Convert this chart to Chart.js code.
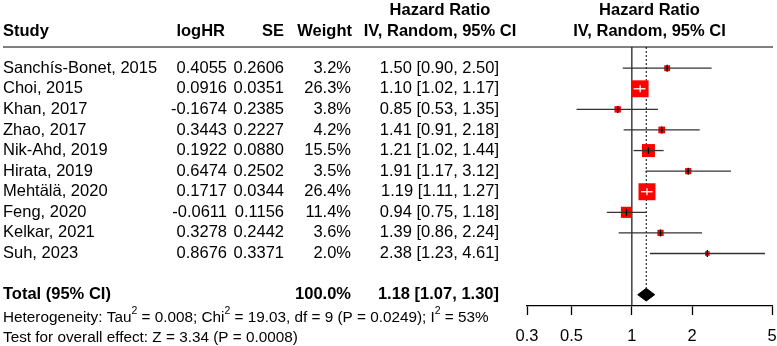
<!DOCTYPE html>
<html>
<head>
<meta charset="utf-8">
<script src="https://cdn.jsdelivr.net/npm/chart.js@4/dist/chart.umd.min.js"></script>
<style>
  html, body { margin: 0; padding: 0; background: #fff; }
</style>
</head>
<body>
<canvas id="forest" width="777" height="346"></canvas>
<script>
// study rows
const studies = ["Sanchís-Bonet, 2015", "Choi, 2015", "Khan, 2017", "Zhao, 2017", "Nik-Ahd, 2019",
  "Hirata, 2019", "Mehtälä, 2020", "Feng, 2020", "Kelkar, 2021", "Suh, 2023"];
const logHR = ["0.4055", "0.0916", "-0.1674", "0.3443", "0.1922", "0.6474", "0.1717", "-0.0611", "0.3278", "0.8676"];
const se = ["0.2606", "0.0351", "0.2385", "0.2227", "0.0880", "0.2502", "0.0344", "0.1156", "0.2442", "0.3371"];
const weight = [3.2, 26.3, 3.8, 4.2, 15.5, 3.5, 26.4, 11.4, 3.6, 2.0];
const hr = [1.50, 1.10, 0.85, 1.41, 1.21, 1.91, 1.19, 0.94, 1.39, 2.38];
const lower = [0.90, 1.02, 0.53, 0.91, 1.02, 1.17, 1.11, 0.75, 0.86, 1.23];
const upper = [2.50, 1.17, 1.35, 2.18, 1.44, 3.12, 1.27, 1.18, 2.24, 4.61];

// pooled estimate
const totalHR = 1.18;
const totalLower = 1.07;
const totalUpper = 1.30;
const totalWeight = 100.0;

const xTicks = [0.3, 0.5, 1, 2, 5];
const heterogeneity = [["Heterogeneity: Tau", 0], ["2", 1], [" = 0.008; Chi", 0], ["2", 1],
  [" = 19.03, df = 9 (P = 0.0249); I", 0], ["2", 1], [" = 53%", 0]];
const overallEffect = "Test for overall effect: Z = 3.34 (P = 0.0008)";

const FONT = '"Liberation Sans", Arial, sans-serif';
const Y_MIN = -1.03, Y_MAX = 11.55;
const totalRow = studies.length + 1;
const DIA_H = 0.31;

const fmt2 = v => v.toFixed(2);
const ciText = (h, l, u) => fmt2(h) + " [" + fmt2(l) + ", " + fmt2(u) + "]";
const boxSide = w => 3.3 * Math.sqrt(w);

function ciInsideBox(i, chart) {
  const x = chart.scales.x;
  const half = boxSide(weight[i]) / 2;
  const px = x.getPixelForValue(hr[i]);
  return x.getPixelForValue(lower[i]) >= px - half && x.getPixelForValue(upper[i]) <= px + half;
}

const whiskers = studies.map((s, i) => ({
  type: "line",
  data: [{ x: lower[i], y: i }, { x: upper[i], y: i }],
  borderColor: ctx => ciInsideBox(i, ctx.chart) ? "#fff" : "#333",
  borderWidth: 1.3,
  pointRadius: 0,
  order: 2,
}));

const tablePlugin = {
  id: "table",
  beforeDatasetsDraw(chart) {
    const { ctx, chartArea } = chart;
    ctx.save();
    ctx.strokeStyle = "#555";
    ctx.lineWidth = 1.6;
    ctx.beginPath();
    ctx.moveTo(3, chartArea.top);
    ctx.lineTo(773, chartArea.top);
    ctx.stroke();
    ctx.restore();
  },
  afterDraw(chart) {
    const { ctx, chartArea } = chart;
    const y = chart.scales.y;
    const plotMid = (chartArea.left + chartArea.right) / 2;
    ctx.save();
    ctx.fillStyle = "#000";
    ctx.textBaseline = "middle";

    function text(str, x, row, align, bold, size) {
      ctx.font = (bold ? "bold " : "") + (size || 16.5) + "px " + FONT;
      ctx.textAlign = align;
      ctx.fillText(str, x, y.getPixelForValue(row));
    }

    // header
    const h1 = -2.8, h2 = -1.8;
    text("Study", 3, h2, "left", true);
    text("logHR", 225, h2, "right", true);
    text("SE", 284, h2, "right", true);
    text("Weight", 352, h2, "right", true);
    text("Hazard Ratio", 440, h1, "center", true);
    text("IV, Random, 95% CI", 440, h2, "center", true);
    text("Hazard Ratio", plotMid, h1, "center", true);
    text("IV, Random, 95% CI", plotMid, h2, "center", true);

    // study rows
    studies.forEach((s, i) => {
      text(s, 3, i, "left");
      text(logHR[i], 227, i, "right");
      text(se[i], 284, i, "right");
      text(weight[i].toFixed(1) + "%", 351, i, "right");
      text(ciText(hr[i], lower[i], upper[i]), 499, i, "right");
    });

    // total
    text("Total (95% CI)", 3, totalRow, "left", true);
    text(totalWeight.toFixed(1) + "%", 351, totalRow, "right", true);
    text(ciText(totalHR, totalLower, totalUpper), 499, totalRow, "right", true);

    // footer with superscripts
    let x = 3;
    const fy = y.getPixelForValue(totalRow + 1.1);
    ctx.textAlign = "left";
    heterogeneity.forEach(([str, sup]) => {
      ctx.font = (sup ? 10.5 : 15.3) + "px " + FONT;
      ctx.fillText(str, x, sup ? fy - 6 : fy);
      x += ctx.measureText(str).width;
    });
    text(overallEffect, 3, totalRow + 2.07, "left", false, 15.3);
    ctx.restore();
  },
};

new Chart(document.getElementById("forest"), {
  type: "scatter",
  data: {
    datasets: [
      {
        type: "line",
        data: [{ x: 1, y: Y_MIN }, { x: 1, y: Y_MAX }],
        borderColor: "#222",
        borderWidth: 1.3,
        pointRadius: 0,
        order: 6,
      },
      {
        type: "line",
        data: [{ x: totalHR, y: Y_MIN }, { x: totalHR, y: totalRow - DIA_H }],
        borderColor: "#000",
        borderWidth: 1,
        borderDash: [2, 2],
        pointRadius: 0,
        order: 6,
      },
      {
        data: studies.map((s, i) => ({ x: hr[i], y: i })),
        pointStyle: "rect",
        pointRadius: ctx => boxSide(weight[ctx.dataIndex] || 0) / Math.SQRT2,
        backgroundColor: "#ff0000",
        borderWidth: 0,
        order: 4,
      },
      ...whiskers,
      {
        data: studies.map((s, i) => ({ x: hr[i], y: i })),
        pointStyle: "line",
        rotation: 90,
        pointRadius: 3.5,
        borderWidth: 1.3,
        borderColor: ctx => ctx.dataIndex !== undefined && ciInsideBox(ctx.dataIndex, ctx.chart) ? "#fff" : "#000",
        order: 1,
      },
      {
        type: "line",
        data: [
          { x: totalLower, y: totalRow },
          { x: totalHR, y: totalRow - DIA_H },
          { x: totalUpper, y: totalRow },
          { x: totalHR, y: totalRow + DIA_H },
          { x: totalLower, y: totalRow },
        ],
        borderColor: "#000",
        backgroundColor: "#000",
        borderWidth: 1,
        fill: "shape",
        tension: 0,
        pointRadius: 0,
        order: 0,
      },
    ],
  },
  options: {
    responsive: false,
    animation: false,
    events: [],
    layout: { autoPadding: false, padding: { left: 527, right: 5, top: 47, bottom: 0 } },
    plugins: { legend: { display: false }, tooltip: { enabled: false } },
    scales: {
      x: {
        type: "logarithmic",
        min: 0.3,
        max: 5,
        afterBuildTicks: axis => { axis.ticks = xTicks.map(v => ({ value: v })); },
        afterFit: axis => {
          axis.height = 40;
          axis.paddingLeft = 0;
          axis.paddingRight = 0;
        },
        border: { display: true, color: "#000", width: 1.3 },
        grid: { drawOnChartArea: false, drawTicks: true, tickLength: 9, tickColor: "#000", tickWidth: 1.3 },
        ticks: {
          color: "#000",
          font: { family: FONT, size: 16.5, lineHeight: 1 },
          padding: 13,
          maxRotation: 0,
          autoSkip: false,
          callback: v => String(v),
        },
      },
      y: { type: "linear", reverse: true, min: Y_MIN, max: Y_MAX, display: false },
    },
  },
  plugins: [tablePlugin],
});
</script>
</body>
</html>
